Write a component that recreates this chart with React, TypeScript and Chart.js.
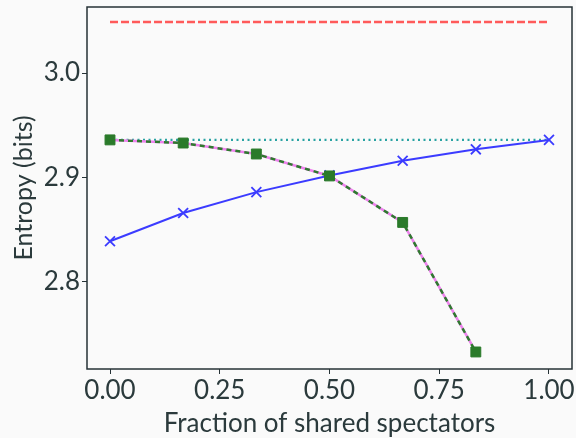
import React, { useEffect, useRef } from "react";
import { Chart, registerables } from "chart.js";

Chart.register(...registerables);

const blueX = [0, 1 / 6, 2 / 6, 3 / 6, 4 / 6, 5 / 6, 1];
const blueY = [2.839, 2.866, 2.886, 2.902, 2.916, 2.927, 2.936];
const greenX = [0, 1 / 6, 2 / 6, 3 / 6, 4 / 6, 5 / 6];
const greenY = [2.936, 2.933, 2.9225, 2.9015, 2.857, 2.733];
const maxEntropyX = [0, 1];
const maxEntropyY = [3.0488, 3.0488];
const baselineX = [0, 1];
const baselineY = [2.936, 2.936];
const xTicks = [0, 0.25, 0.5, 0.75, 1.0];
const yTicks = [2.8, 2.9, 3.0];

const TEXT = "#2b3a3c";
const FONT = "Lato, 'Open Sans', sans-serif";

const pts = (xs: number[], ys: number[]) => xs.map((x, i) => ({ x, y: ys[i] }));

const framePlugin = {
  id: "frame",
  beforeDraw(chart: any) {
    const ctx = chart.ctx;
    ctx.save();
    ctx.fillStyle = "#fafafa";
    ctx.fillRect(0, 0, chart.width, chart.height);
    ctx.restore();
  },
  afterDraw(chart: any) {
    const { ctx, chartArea: a } = chart;
    ctx.save();
    ctx.strokeStyle = "#263236";
    ctx.lineWidth = 1.5;
    ctx.strokeRect(a.left, a.top, a.right - a.left, a.bottom - a.top);
    ctx.restore();
  },
};

export default function App() {
  const ref = useRef<HTMLCanvasElement>(null);
  useEffect(() => {
    if (!ref.current) return;
    const chart = new Chart(ref.current, {
      type: "scatter",
      data: {
        datasets: [
          {
            data: pts(greenX, greenY),
            showLine: true,
            borderColor: "#2e7a2e",
            borderWidth: 2.5,
            borderDash: [5, 4],
            pointStyle: "rect",
            pointRadius: 7,
            pointBackgroundColor: "#2a7a2a",
            pointBorderColor: "#2a7a2a",
            pointBorderWidth: 1,
          },
          {
            data: pts(greenX, greenY),
            showLine: true,
            borderColor: "#ee82ee",
            borderWidth: 2.5,
            pointRadius: 0,
          },
          {
            data: pts(blueX, blueY),
            showLine: true,
            borderColor: "#3b3bff",
            borderWidth: 2,
            pointStyle: "crossRot",
            pointRadius: 7,
            pointBorderColor: "#3b3bff",
            pointBorderWidth: 1.8,
          },
          {
            data: pts(baselineX, baselineY),
            showLine: true,
            borderColor: "#2aa3a3",
            borderWidth: 2.2,
            borderDash: [2, 3.5],
            pointRadius: 0,
          },
          {
            data: pts(maxEntropyX, maxEntropyY),
            showLine: true,
            borderColor: "#ff5a5a",
            borderWidth: 2.5,
            borderDash: [8, 3],
            pointRadius: 0,
          },
        ],
      },
      options: {
        animation: false,
        responsive: true,
        maintainAspectRatio: false,
        layout: { autoPadding: false, padding: { top: 7, right: 4, left: 0, bottom: 0 } },
        plugins: { legend: { display: false }, tooltip: { enabled: false } },
        scales: {
          x: {
            type: "linear",
            min: -0.0524,
            max: 1.0524,
            afterBuildTicks: (s: any) => {
              s.ticks = xTicks.map((v) => ({ value: v }));
            },
            afterFit: (s: any) => {
              s.height = 69;
              s.paddingLeft = 0;
              s.paddingRight = 0;
            },
            border: { display: false },
            grid: { drawOnChartArea: false, drawTicks: true, tickLength: 5, color: "#263236", lineWidth: 1 },
            ticks: {
              color: TEXT,
              font: { family: FONT, size: 26 },
              padding: 1,
              maxRotation: 0,
              callback: (v: any) => Number(v).toFixed(2),
            },
            title: {
              display: true,
              text: "Fraction of shared spectators",
              color: TEXT,
              font: { family: FONT, size: 26, lineHeight: 1.1 },
              padding: { top: 0, bottom: 0 },
            },
          },
          y: {
            type: "linear",
            min: 2.7167,
            max: 3.0632,
            afterBuildTicks: (s: any) => {
              s.ticks = yTicks.map((v) => ({ value: v }));
            },
            afterFit: (s: any) => {
              s.width = 87;
              s.paddingTop = 0;
              s.paddingBottom = 0;
            },
            border: { display: false },
            grid: { drawOnChartArea: false, drawTicks: true, tickLength: 5, color: "#263236", lineWidth: 1 },
            ticks: {
              color: TEXT,
              font: { family: FONT, size: 26 },
              padding: 2,
              callback: (v: any) => Number(v).toFixed(1),
            },
            title: {
              display: true,
              text: "Entropy (bits)",
              color: TEXT,
              font: { family: FONT, size: 25, lineHeight: 1.1 },
              padding: { top: 10, bottom: 0 },
            },
          },
        },
      },
      plugins: [framePlugin],
    });
    return () => chart.destroy();
  }, []);
  return (
    <div style={{ position: "fixed", left: 0, top: 0, width: 576, height: 438, background: "#fafafa" }}>
      <canvas ref={ref} />
    </div>
  );
}
